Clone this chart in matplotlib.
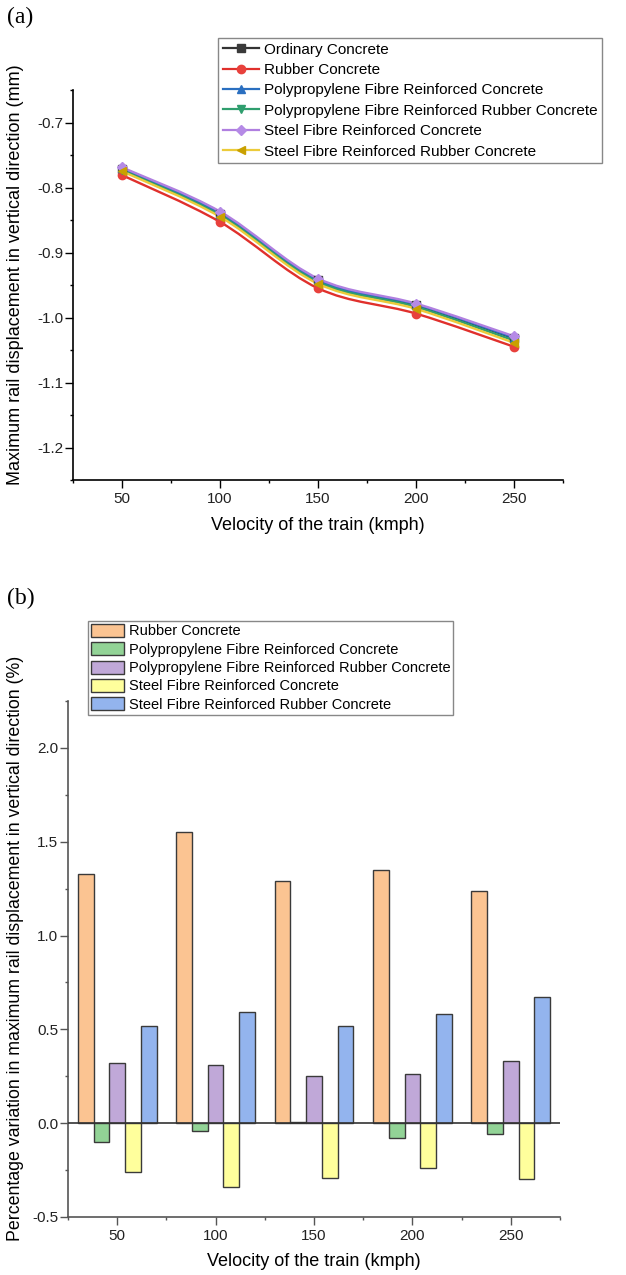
import numpy as np
import matplotlib
matplotlib.use('Agg')
import matplotlib.pyplot as plt
from matplotlib.path import Path
from matplotlib.patches import PathPatch, Patch
from matplotlib.lines import Line2D
from matplotlib.ticker import MultipleLocator

plt.rcParams['font.family'] = ['Liberation Sans', 'DejaVu Sans']
plt.rcParams['axes.unicode_minus'] = False

velocity = [50, 100, 150, 200, 250]

# (a) maximum rail displacement (mm)
ordinary = [-0.771, -0.840, -0.943, -0.981, -1.032]
rubber = [-0.781, -0.853, -0.955, -0.994, -1.045]
pp_fibre = [-0.770, -0.840, -0.943, -0.980, -1.031]
pp_fibre_rubber = [-0.7735, -0.8426, -0.9454, -0.9836, -1.0354]
steel_fibre = [-0.769, -0.837, -0.940, -0.9786, -1.0289]
steel_fibre_rubber = [-0.775, -0.845, -0.948, -0.9867, -1.0389]

# (b) percentage variation (%)
pct_rubber = [1.33, 1.55, 1.29, 1.35, 1.24]
pct_pp_fibre = [-0.10, -0.04, 0.005, -0.08, -0.06]
pct_pp_fibre_rubber = [0.32, 0.31, 0.25, 0.26, 0.33]
pct_steel_fibre = [-0.26, -0.34, -0.29, -0.24, -0.30]
pct_steel_fibre_rubber = [0.52, 0.59, 0.52, 0.58, 0.67]

names = ['Ordinary Concrete', 'Rubber Concrete',
         'Polypropylene Fibre Reinforced Concrete',
         'Polypropylene Fibre Reinforced Rubber Concrete',
         'Steel Fibre Reinforced Concrete',
         'Steel Fibre Reinforced Rubber Concrete']

W, H = 626, 1275
fig = plt.figure(figsize=(W / 100, H / 100), dpi=100)


def box(x0, y0, x1, y1):
    return [x0 / W, 1 - y1 / H, (x1 - x0) / W, (y1 - y0) / H]


def smooth_path(xs, ys):
    # spline-like connection through the points (Origin "spline" line)
    pts = np.column_stack([xs, ys]).astype(float)
    ext = np.vstack([pts[0], pts, pts[-1]])
    verts = [pts[0]]
    codes = [Path.MOVETO]
    for i in range(1, len(ext) - 2):
        p0, p1, p2, p3 = ext[i - 1], ext[i], ext[i + 1], ext[i + 2]
        verts += [p1 + (p2 - p0) / 6, p2 - (p3 - p1) / 6, p2]
        codes += [Path.CURVE4] * 3
    return Path(verts, codes)


def style_axes(ax, col):
    for s in ['top', 'right']:
        ax.spines[s].set_visible(False)
    for s in ['left', 'bottom']:
        ax.spines[s].set_color(col)
        ax.spines[s].set_linewidth(1.2)
    ax.tick_params(which='major', direction='out', length=5.5, width=1,
                   color=col, labelsize=11, labelcolor='#222222', pad=1.5)
    ax.tick_params(which='minor', direction='out', length=2.5, width=1, color=col)
    ax.tick_params(axis='x', which='major', pad=3)
    ax.xaxis.set_major_locator(MultipleLocator(50))
    ax.xaxis.set_minor_locator(MultipleLocator(25))
    ax.set_xlim(25, 275)


# ---------------- (a) ----------------
ax1 = fig.add_axes(box(73, 90, 563, 480))
style_axes(ax1, 'black')
ax1.set_ylim(-1.25, -0.65)
ax1.yaxis.set_major_locator(MultipleLocator(0.1))
ax1.yaxis.set_minor_locator(MultipleLocator(0.05))

series = [ordinary, rubber, pp_fibre, pp_fibre_rubber, steel_fibre, steel_fibre_rubber]
line_cols = ['#333333', '#e0302c', '#2a6fc0', '#2f9e6e', '#b07fe0', '#eccb3a']
mark_cols = ['#3a3a3a', '#e8413c', '#2a6fc0', '#2f9e6e', '#b58ae6', '#c9a000']
markers = ['s', 'o', '^', 'v', 'D', '<']
handles = []
for vals, lc, mc, mk, nm in zip(series, line_cols, mark_cols, markers, names):
    ms = 5.5 if mk == 'D' else 6
    ax1.add_patch(PathPatch(smooth_path(velocity, vals), fill=False,
                            edgecolor=lc, lw=1.7, zorder=2))
    ax1.plot(velocity, vals, linestyle='none', marker=mk, ms=ms,
             color=mc, mec=mc, zorder=3)
    handles.append(Line2D([], [], color=lc, lw=1.6, marker=mk, ms=ms, mfc=mc, mec=mc))

leg1 = fig.legend(handles, names, loc='upper left', bbox_to_anchor=(218 / W, 1 - 38 / H),
                  fontsize=11, frameon=True, fancybox=False, framealpha=1,
                  edgecolor='#888888', borderpad=0.3, labelspacing=0.42,
                  handlelength=2.4, handletextpad=0.3, borderaxespad=0)
leg1.get_frame().set_linewidth(1)

fig.text(16 / W, 1 - 275 / H,
         'Maximum rail displacement in vertical direction (mm)',
         rotation=90, ha='center', va='center', fontsize=13)
fig.text(318 / W, 1 - 525 / H, 'Velocity of the train (kmph)',
         ha='center', va='center', fontsize=13)
fig.text(7 / W, 1 - 17 / H, '(a)', family='Liberation Serif', fontsize=17,
         ha='left', va='center')

# ---------------- (b) ----------------
ax2 = fig.add_axes(box(68, 701, 560, 1217))
style_axes(ax2, '#555555')
ax2.set_ylim(-0.5, 2.25)
ax2.yaxis.set_major_locator(MultipleLocator(0.5))
ax2.yaxis.set_minor_locator(MultipleLocator(0.25))

pcts = [pct_rubber, pct_pp_fibre, pct_pp_fibre_rubber, pct_steel_fibre, pct_steel_fibre_rubber]
bar_cols = ['#fbc492', '#92d396', '#c0a8d8', '#ffff9c', '#93b4ee']
offsets = [-16, -8, 0, 8, 16]
x = np.array(velocity, dtype=float)
for vals, c, off in zip(pcts, bar_cols, offsets):
    ax2.bar(x + off, vals, width=8, color=c, edgecolor='#3a3a3a', lw=1, zorder=2)
ax2.axhline(0, color='#333333', lw=1.2, zorder=3)

bar_handles = [Patch(facecolor=c, edgecolor='#3a3a3a', lw=1) for c in bar_cols]
leg2 = fig.legend(bar_handles, names[1:], loc='upper left',
                  bbox_to_anchor=(88 / W, 1 - 621 / H),
                  fontsize=10.5, frameon=True, fancybox=False, framealpha=1,
                  edgecolor='#888888', borderpad=0.2, labelspacing=0.26,
                  handlelength=2.3, handleheight=1.0, handletextpad=0.3,
                  borderaxespad=0)
leg2.get_frame().set_linewidth(1)

fig.text(16 / W, 1 - 948 / H,
         'Percentage variation in maximum rail displacement in vertical direction (%)',
         rotation=90, ha='center', va='center', fontsize=12.8)
fig.text(314 / W, 1 - 1262 / H, 'Velocity of the train (kmph)',
         ha='center', va='center', fontsize=13)
fig.text(7 / W, 1 - 598 / H, '(b)', family='Liberation Serif', fontsize=17,
         ha='left', va='center')

fig.savefig('out.png', dpi=100)
